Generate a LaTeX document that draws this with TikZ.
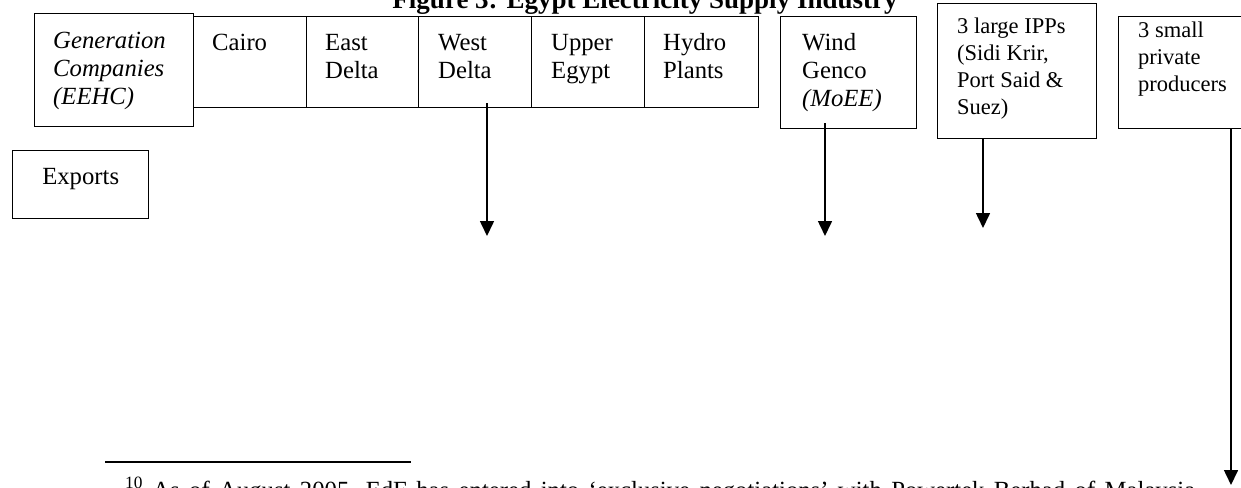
\documentclass[tikz,border=0pt]{standalone}
\usepackage{fontspec}
\setmainfont{Liberation Serif}
\usetikzlibrary{arrows.meta}
\newcommand{\bodyfont}{\fontsize{24.7}{28.4}\selectfont}
\newcommand{\smallfont}{\fontsize{22.5}{27}\selectfont}
\newcommand{\titlefont}{\fontsize{27}{30}\selectfont\bfseries}
\begin{document}
\begin{tikzpicture}[x=1pt,y=-1pt,
  box/.style={draw, line width=1.4pt, inner sep=0pt, anchor=north west},
  lab/.style={anchor=north west, inner sep=0pt, align=left, font=\bodyfont},
  slab/.style={anchor=north west, inner sep=0pt, align=left, font=\smallfont},
  arr/.style={line width=1.6pt, -{Triangle[width=14pt,length=15pt]}}]
\useasboundingbox (0,0) rectangle (1241,487);
\clip (0,0) rectangle (1241,487);

% title
\node[font=\titlefont, anchor=base, inner sep=0pt] (title) at (645,9) {Figure 3: Egypt Electricity Supply Industry};

% generation companies
\node[box, minimum width=159pt, minimum height=113pt,
  label={[lab, xshift=19pt, yshift=-15.1pt]north west:{\strut\textit{Generation}\\\textit{Companies}\\\textit{(EEHC)}}}] (gen) at (34,13) {};

% row of gencos
\node[box, minimum width=113pt, minimum height=91pt,
  label={[lab, xshift=19pt, yshift=-14.1pt]north west:{\strut Cairo}}] (cai) at (193,16) {};
\node[box, minimum width=112pt, minimum height=91pt,
  label={[lab, xshift=19pt, yshift=-14.1pt]north west:{\strut East\\Delta}}] (ed) at (306,16) {};
\node[box, minimum width=113pt, minimum height=91pt,
  label={[lab, xshift=20pt, yshift=-14.1pt]north west:{\strut West\\Delta}}] (wd) at (418,16) {};
\node[box, minimum width=113pt, minimum height=91pt,
  label={[lab, xshift=20pt, yshift=-14.1pt]north west:{\strut Upper\\Egypt}}] (ue) at (531,16) {};
\node[box, minimum width=114pt, minimum height=91pt,
  label={[lab, xshift=19pt, yshift=-14.1pt]north west:{\strut Hydro\\Plants}}] (hp) at (644,16) {};

% wind genco
\node[box, minimum width=136pt, minimum height=112pt,
  label={[lab, xshift=22pt, yshift=-14.1pt]north west:{\strut Wind\\Genco\\\textit{(MoEE)}}}] (wg) at (780,16) {};

% IPPs
\node[box, minimum width=159pt, minimum height=135pt,
  label={[slab, xshift=20pt, yshift=-11.1pt]north west:{\strut 3 large IPPs\\(Sidi Krir,\\Port Said \&\\Suez)}}] (ipp) at (937,3) {};

% small producers
\node[box, minimum width=140pt, minimum height=112pt,
  label={[slab, xshift=20pt, yshift=-2.1pt]north west:{\strut 3 small\\private\\producers}}] (sp) at (1118,16) {};

% exports
\node[box, minimum width=136pt, minimum height=68pt,
  label={[font=\bodyfont, anchor=base, inner sep=0pt, yshift=-34pt]north:Exports}] (exp) at (12,150) {};

% arrows
\coordinate (wdend) at (487,236);
\coordinate (wgend) at (825,236);
\coordinate (ippend) at (983,228);
\coordinate (spend) at (1231,485);
\draw[arr] ([yshift=5pt]wd.south -| wdend) -- (wdend);
\draw[arr] ([yshift=6pt]wg.south -| wgend) -- (wgend);
\draw[arr] (ipp.south -| ippend) -- (ippend);
\draw[arr] (sp.south -| spend) -- (spend);

% footnote
\coordinate (rulea) at (105,462);
\coordinate (ruleb) at (411,462);
\draw[line width=1.5pt] (rulea) -- (ruleb);
\node[anchor=base west, font=\bodyfont, inner sep=0pt] (fn) at (125,498)
  {\makebox[1070pt][s]{\textsuperscript{10} As of August 2005, EdF has entered into ‘exclusive negotiations’ with Powertek Berhad of Malaysia}};
\end{tikzpicture}
\end{document}
